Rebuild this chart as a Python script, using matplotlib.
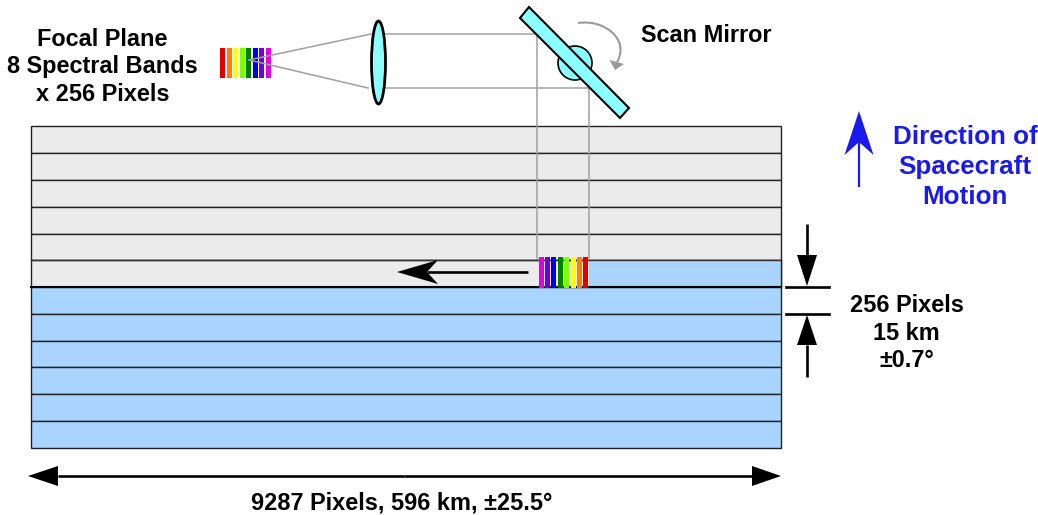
import matplotlib
matplotlib.use("Agg")
import matplotlib.pyplot as plt
from matplotlib.patches import Rectangle, Ellipse, Circle, Polygon, PathPatch
from matplotlib.path import Path

W, H = 1038, 515
plt.rcParams['font.family'] = ['Liberation Sans', 'DejaVu Sans']

band_colors = ['#e00000', '#ff8000', '#ffff00', '#80ff00', '#008000', '#0000e8', '#7000d8', '#e000e0']
row_edges = [126, 153, 180, 207, 234, 260, 287, 314, 341, 367, 394, 421, 448]
scanned_rows = 6
swath_left, swath_right = 30.5, 781
scan_x = 589
GREY, BLUE, CYAN, RAY = '#ebebeb', '#a8d4ff', '#8cffff', '#a0a0a0'

labels = [
    (102.5, 67, "Focal Plane\n8 Spectral Bands\nx 256 Pixels", 'black', 16.9, 1.23),
    (706, 35, "Scan Mirror", 'black', 16.9, 1.23),
    (965, 167, "Direction of\nSpacecraft\nMotion", '#1a1aee', 18.7, 1.34),
    (906.5, 333, "256 Pixels\n15 km\n±0.7°", 'black', 16.9, 1.23),
    (402, 503, "9287 Pixels, 596 km, ±25.5°", 'black', 16.9, 1.23),
]

fig = plt.figure(figsize=(W / 100, H / 100), dpi=100)
ax = fig.add_axes([0, 0, 1, 1])
ax.set_xlim(0, W)
ax.set_ylim(H, 0)
ax.axis('off')

# swath rows
for i in range(len(row_edges) - 1):
    y0, y1 = row_edges[i], row_edges[i + 1]
    ax.add_patch(Rectangle((swath_left, y0), swath_right - swath_left, y1 - y0,
                           fc=GREY if i < scanned_rows else BLUE, ec='#222222', lw=1.0, zorder=1))
ax.add_patch(Rectangle((scan_x, row_edges[5]), swath_right - scan_x, row_edges[6] - row_edges[5],
                       fc=BLUE, ec='none', zorder=1.5))
ax.plot([swath_left, swath_right], [row_edges[5]] * 2, color='#333333', lw=1.0, zorder=1.6)
ax.plot([swath_left, swath_right], [row_edges[6]] * 2, color='black', lw=1.5, zorder=1.6)
ax.plot([swath_right] * 2, [row_edges[5], row_edges[6]], color='#222222', lw=1.0, zorder=1.6)

# focal plane and projected footprint
for i, c in enumerate(band_colors):
    ax.add_patch(Rectangle((220 + i * 6.55, 48), 5.1, 30, fc=c, ec='none', zorder=1.9))
    ax.add_patch(Rectangle((583.3 - i * 6.4, 257), 5, 31, fc=c, ec='none', zorder=3))

# rays
for xs, ys in [([249, 371], [60, 34]), ([249, 368], [60, 88]), ([385, 537], [34, 34]),
               ([384, 589], [88, 88]), ([537, 537], [34, 258]), ([589, 589], [88, 258])]:
    ax.plot(xs, ys, color=RAY, lw=1.1, zorder=2)

# optics
ax.add_patch(Ellipse((378.5, 62.5), 14, 83, fc=CYAN, ec='black', lw=2.0, zorder=4))
ax.add_patch(Circle((575, 63), 17, fc=CYAN, ec='black', lw=1.2, zorder=4))
ax.add_patch(Polygon([(529, 7), (520, 18), (620, 118), (629, 108)], closed=True,
                     fc=CYAN, ec='black', lw=1.5, zorder=5))

# curved rotation arrow
ax.add_patch(PathPatch(Path([(578, 23), (605, 19), (630, 40), (617, 62)],
                            [Path.MOVETO, Path.CURVE4, Path.CURVE4, Path.CURVE4]),
                       fc='none', ec='#999999', lw=1.5, zorder=3))
ax.add_patch(Polygon([(615, 70), (609.5, 60), (624, 64)], closed=True, fc='#999999', ec='none', zorder=3))


def arrow(tail, tip, base, half, notch=None, color='black', lw=1.9):
    """Straight arrow along one axis: tail and tip as (x, y); base/notch along the axis."""
    (tx, ty), (px, py) = tail, tip
    if ty == py:
        notch_pt = (notch if notch is not None else base, py)
        pts = [(px, py), (base, py - half), notch_pt, (base, py + half)]
        end = notch_pt
    else:
        notch_pt = (px, notch if notch is not None else base)
        pts = [(px, py), (px - half, base), notch_pt, (px + half, base)]
        end = notch_pt
    ax.plot([tx, end[0]], [ty, end[1]], color=color, lw=lw, zorder=6, solid_capstyle='butt')
    ax.add_patch(Polygon(pts, closed=True, fc=color, ec='none', zorder=6))


# scan direction
arrow((528, 272), (397, 272), 438, 12, notch=427)
# swath width
arrow((404, 476), (28, 476), 58, 10)
arrow((404, 476), (781, 476), 752, 10)
# swath height
arrow((807, 224), (807, 286), 255, 10)
arrow((807, 377), (807, 315), 345, 10)
ax.plot([786, 829], [287, 287], color='black', lw=1.9)
ax.plot([786, 829], [313.5, 313.5], color='black', lw=1.9)
# spacecraft motion
arrow((859, 187), (859, 111), 155, 14.5, notch=142, color='#1a1aee', lw=1.6)

for x, y, s, c, fs, ls in labels:
    ax.text(x, y, s, ha='center', va='center', color=c, fontsize=fs, fontweight='bold',
            linespacing=ls, zorder=7)

fig.savefig('out.png', dpi=100)
